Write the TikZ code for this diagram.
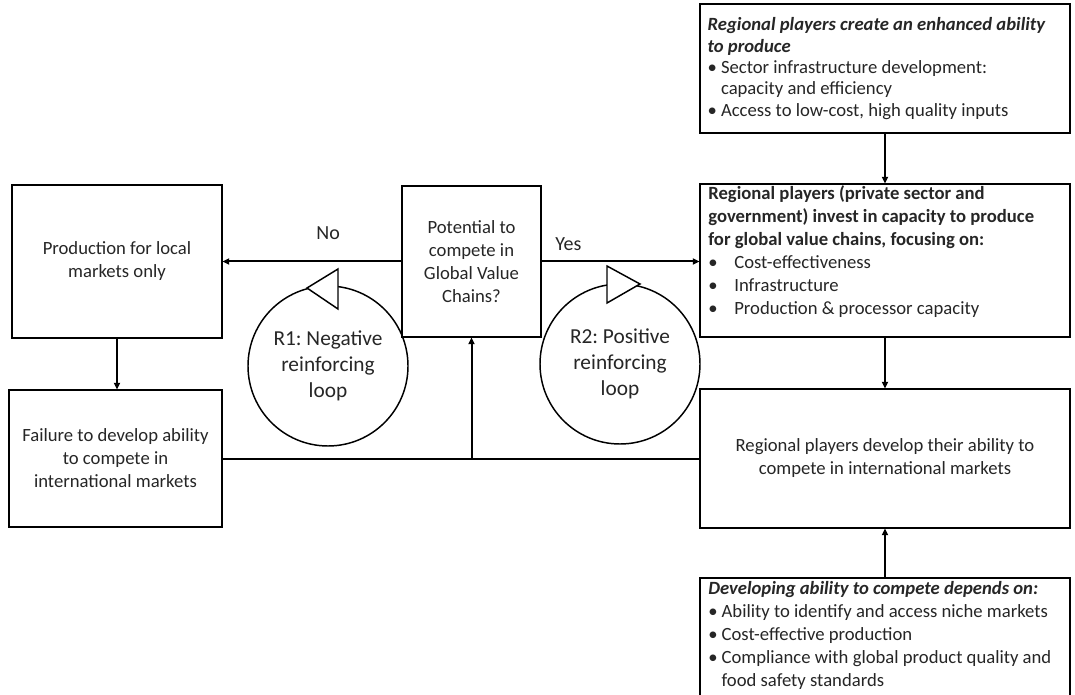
\documentclass[tikz,border=0pt]{standalone}
\usepackage{fontspec}
\setmainfont{Carlito}
\usetikzlibrary{arrows.meta, positioning, calc, shadows}
\frenchspacing

% bullet line with hanging indent
\newcommand{\bitem}[2]{\par\hangindent=#1\hangafter=1\noindent\makebox[#1][l]{\textbullet}#2}

\begin{document}
\begin{tikzpicture}[x=0.75pt, y=-0.75pt,
  box/.style={draw, line width=0.8pt, fill=white, inner sep=0pt, align=center,
    drop shadow={shadow xshift=1pt, shadow yshift=-1pt, opacity=0.35},
    font=\fontsize{14}{17.25}\selectfont, text=black!85},
  loopc/.style={circle, draw, line width=1.1pt, minimum size=120pt, inner sep=0pt,
    align=center, font=\fontsize{16}{19.5}\selectfont, text=black!85},
  flow/.style={line width=1.5pt, -{Triangle[length=5pt, width=4.5pt]}},
  link/.style={line width=1.5pt},
  looptip/.style={draw, line width=1.1pt, fill=white, line join=miter},
  lbl/.style={font=\fontsize{15}{18}\selectfont, text=black!85}]
  \useasboundingbox (0,0) rectangle (1075,695);

  % left column
  \node[box, minimum width=157.5pt, minimum height=114.75pt] (prod) at (117,261.5)
    {Production for local\\markets only};
  \node[box, minimum width=159.75pt, minimum height=102.75pt] (fail) at (115.5,458.5)
    {Failure to develop ability\\to compete in\\international markets};

  % decision
  \node[box, minimum width=104.25pt, minimum height=113.25pt] (gvc) at (471.5,261.5)
    {Potential to\\compete in\\Global Value\\Chains?};

  % right column
  \node[box, minimum width=277.5pt, minimum height=96.75pt] (abil) at (885,68.5)
    {\parbox{266pt}{\fontsize{14}{16}\selectfont
      \textbf{\textit{Regional players create an enhanced ability\newline to produce}}
      \bitem{10pt}{Sector infrastructure development:\newline capacity and efficiency}
      \bitem{10pt}{Access to low-cost, high quality inputs}}};
  \node[box, minimum width=277.5pt, minimum height=114.75pt] (invest) at (885,260.5)
    {\parbox[c][112pt][t]{265pt}{%
      \textbf{Regional players (private sector and\newline government) invest in capacity to produce\newline for global value chains, focusing on:}
      \bitem{19.5pt}{Cost-effectiveness}
      \bitem{19.5pt}{Infrastructure}
      \bitem{19.5pt}{Production \& processor capacity}}};
  \node[box, minimum width=277.5pt, minimum height=104.25pt] (develop) at (885,458.5)
    {Regional players develop their ability to\\compete in international markets};
  \node[box, minimum width=277.5pt, minimum height=125pt] (depend) at (885,661.3)
    {\parbox[c][120pt][t]{265pt}{%
      \textbf{\textit{Developing ability to compete depends on:}}
      \bitem{10pt}{Ability to identify and access niche markets}
      \bitem{10pt}{Cost-effective production}
      \bitem{10pt}{Compliance with global product quality and\newline food safety standards}}};

  % loops
  \node[loopc] (r1) at (328,366) {R1: Negative\\reinforcing\\loop};
  \node[loopc] (r2) at (620,364) {R2: Positive\\reinforcing\\loop};
  \draw[looptip] ($(r1.center)+(-21,-78)$) -- ($(r1.center)+(10,-97)$)
    -- ($(r1.center)+(10,-57)$) -- cycle;
  \draw[looptip] ($(r2.center)+(20,-80)$) -- ($(r2.center)+(-13,-98)$)
    -- ($(r2.center)+(-13,-61)$) -- cycle;

  % connectors
  \draw[flow] (gvc.west) -- (prod.east) node[lbl, pos=0.41, above=12pt] {No};
  \draw[flow] (gvc.east) -- (gvc.east -| invest.west) node[lbl, pos=0.17, above=4pt] {Yes};
  \draw[flow] (prod.south) -- (prod.south |- fail.north);
  \draw[flow] (abil) -- (invest);
  \draw[flow] (invest) -- (develop);
  \draw[flow] (depend) -- (develop);
  \coordinate (join) at (gvc.south |- fail.east);
  \draw[link] (fail.east) -- (join);
  \draw[link] (develop.west) -- (join);
  \draw[flow] (join) -- (gvc.south);
\end{tikzpicture}
\end{document}
